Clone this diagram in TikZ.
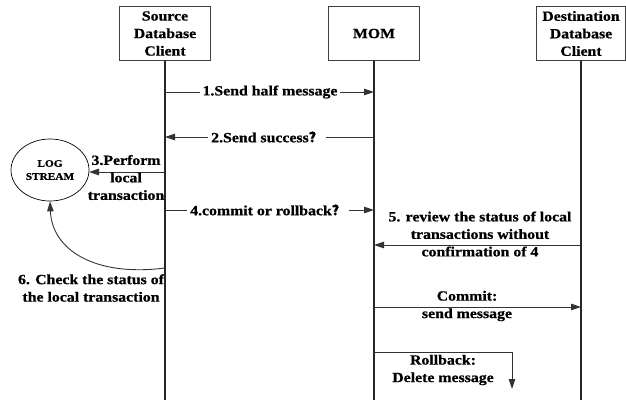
\documentclass[tikz,border=0pt]{standalone}
\usepackage{fontspec}
\setmainfont{Liberation Serif}[FakeStretch=1.13, BoldFeatures={FakeBold=0.8}]
\newfontfamily\cjk{Noto Sans CJK SC}[FakeBold=1.5]
\usetikzlibrary{arrows.meta,shapes.geometric}
\newcommand{\fq}{{\cjk ？}}
\tikzset{
  lbl/.style={font=\fontsize{14}{17.5}\selectfont\bfseries, align=center, inner sep=1pt},
  onlbl/.style={lbl, fill=white, inner sep=3pt},
  actor/.style={draw=black!75, line width=0.9pt, minimum width=91pt, minimum height=54pt,
    inner sep=0pt, font=\fontsize{14}{17.5}\selectfont\bfseries, align=center},
  life/.style={line width=1.1pt, black!85},
  msg/.style={line width=0.9pt, black!80, -{Triangle[length=10pt,width=6.5pt]}},
  plain/.style={line width=0.9pt, black!80}
}
\begin{document}
\begin{tikzpicture}[x=1pt,y=-1pt]
\useasboundingbox (0,0) rectangle (626,400);

% participants
\node[actor] (src) at (165,33.5) {Source\\Database\\Client};
\node[actor] (mom) at (374,33.5) {MOM};
\node[actor, minimum width=89pt] (dst) at (581,33.5) {Destination\\Database\\Client};

% lifelines
\coordinate (srcEnd) at (165,400);
\coordinate (momEnd) at (374,400);
\coordinate (dstEnd) at (581,400);
\draw[life] (src.south) -- (srcEnd);
\draw[life] (mom.south) -- (momEnd);
\draw[life] (dst.south) -- (dstEnd);

% log stream
\node[draw, ellipse, line width=0.7pt, minimum width=78pt, minimum height=62pt, inner sep=0pt,
  font=\fontsize{10}{13}\selectfont\bfseries, align=center] (log) at (50,170) {LOG\\STREAM};

% anchor points on the lifelines
\coordinate (s1) at (165,92);   \coordinate (m1) at (374,92);
\coordinate (s2) at (165,137);  \coordinate (m2) at (374,137);
\coordinate (s3) at (165,172);  \coordinate (l3) at (89,172);
\coordinate (s4) at (165,210);  \coordinate (m4) at (374,210);
\coordinate (m5) at (374,245);  \coordinate (d5) at (581,245);
\coordinate (s6) at (165,268);
\coordinate (m7) at (374,307);  \coordinate (d7) at (581,307);
\coordinate (m8) at (374,352);  \coordinate (c8) at (512,352);  \coordinate (e8) at (512,389);

% 1. half message
\draw[msg] (s1) -- (m1);
\node[onlbl] (t1) at (270,92) {1.Send half message};

% 2. send success
\draw[msg] (m2) -- (s2);
\node[onlbl] (t2) at (267,137) {2.Send success\fq};

% 3. local transaction
\draw[msg] (s3) -- (l3);
\node[lbl] (t3) at (126,177.5) {3.Perform\\local\\transaction};

% 4. commit or rollback
\draw[msg] (s4) -- (m4);
\node[onlbl] (t4) at (268,210) {4.commit or rollback\fq};

% 5. status review
\draw[msg] (d5) -- (m5);
\node[lbl] (t5) at (480,234) {5. review the status of local\\transactions without\\confirmation of 4};

% 6. check status
\draw[plain, -{Triangle[length=10pt,width=6.5pt]}] (s6) .. controls (95,277) and (52,250) .. (log.south);
\node[lbl] (t6) at (91,288) {6. Check the status of\\the local transaction};

% commit
\draw[msg] (m7) -- (d7);
\node[lbl] (t7) at (467,306) {Commit:\\send message};

% rollback
\draw[msg] (m8) -- (c8) -- (e8);
\node[lbl] (t8) at (443,370) {Rollback:\\Delete message};
\end{tikzpicture}
\end{document}
